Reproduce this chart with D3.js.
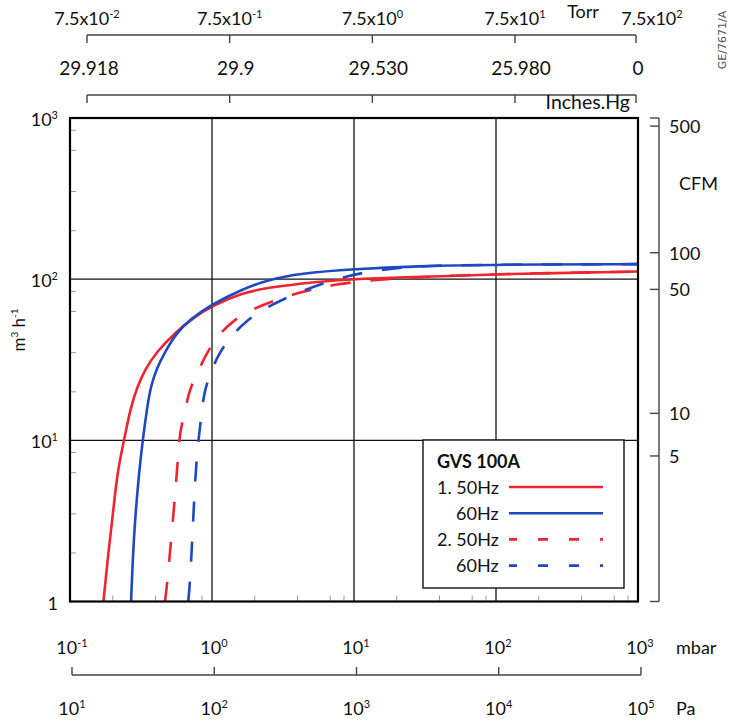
<!DOCTYPE html>
<html>
<head>
<meta charset="utf-8">
<script src="https://cdn.jsdelivr.net/npm/d3@7"></script>
<style>
  html, body { margin: 0; padding: 0; background: #fff; }
  svg { display: block; font-family: Lato, "Open Sans", sans-serif; }
</style>
</head>
<body>
<svg id="chart" width="730" height="722"></svg>
<script>
// ---- pressure axes ----
const mbarTicks = [0.1, 1, 10, 100, 1000];
const paTicks = [1e1, 1e2, 1e3, 1e4, 1e5];
const torrTicks = [0.075, 0.75, 7.5, 75, 750];
const torrExponents = [-2, -1, 0, 1, 2];
const inchesHgLabels = ["29.918", "29.9", "29.530", "25.980", "0"];
const pressureMinor = [2, 4, 6.8, 8.5];

// ---- flow axes ----
const flowTicks = [1, 10, 100, 1000];
const flowMinor = [2, 3.5, 6.3, 8.4];
const cfmLabels = [5, 10, 50, 100, 500];
const cfmAtFlow = [8.0, 14.7, 86.4, 145.8, 891];   // m³/h position of each CFM mark

// ---- pumping speed curves (pressure mbar, flow m³/h) ----
const stage1_50Hz_p = [0.172, 0.186, 0.202, 0.215, 0.240, 0.268, 0.298, 0.3375, 0.408, 0.549, 0.738, 1.0, 1.66, 2.43, 5.46, 10, 47, 100, 1000];
const stage1_50Hz_q = [1, 1.99, 3.7, 6.24, 10, 16.2, 21.5, 27.5, 35.5, 46.5, 57.5, 68.5, 82.3, 88.5, 96.4, 100.8, 104.5, 107.5, 111.5];

const stage1_60Hz_p = [0.269, 0.278, 0.287, 0.306, 0.325, 0.350, 0.370, 0.408, 0.467, 0.564, 0.700, 1.0, 1.66, 2.43, 4.17, 10, 27.6, 100, 1000];
const stage1_60Hz_q = [1, 1.99, 3.2, 6.24, 10, 16.2, 21.5, 28.0, 35.5, 46.5, 56.5, 70, 87.0, 98.7, 108.7, 115.5, 120.5, 123, 124];

const stage2_50Hz_p = [0.467, 0.485, 0.515, 0.549, 0.579, 0.595, 0.645, 0.689, 0.793, 0.927, 1.12, 1.45, 1.90, 2.70, 3.54, 5.17, 7.35, 12.3, 24, 50, 100, 1000];
const stage2_50Hz_q = [1, 1.33, 2.41, 4.47, 8.3, 11.3, 15.05, 20.3, 26.6, 35.4, 45.7, 56.3, 65.0, 73.0, 79.7, 86.5, 92.9, 98, 102.3, 105, 107.5, 111.5];

const stage2_60Hz_p = [0.681, 0.700, 0.718, 0.744, 0.770, 0.812, 0.845, 0.878, 0.968, 1.126, 1.36, 1.755, 2.30, 3.18, 4.35, 6.08, 8.41, 11.6, 16.5, 32.5, 100, 1000];
const stage2_60Hz_q = [1, 1.33, 2.0, 3.8, 6.8, 11.0, 14.7, 19.6, 26.0, 34.9, 44.4, 55.2, 65.3, 75, 84.7, 94.2, 103.0, 109.6, 115.5, 121.5, 123, 124];

const legendTitle = "GVS 100A";
const seriesNames = ["1. 50Hz", "60Hz", "2. 50Hz", "60Hz"];

const RED = "#ee2430", BLUE = "#1e47c0";
const series = [
  { name: seriesNames[0], p: stage1_50Hz_p, q: stage1_50Hz_q, color: RED,  dashed: false },
  { name: seriesNames[1], p: stage1_60Hz_p, q: stage1_60Hz_q, color: BLUE, dashed: false },
  { name: seriesNames[2], p: stage2_50Hz_p, q: stage2_50Hz_q, color: RED,  dashed: true },
  { name: seriesNames[3], p: stage2_60Hz_p, q: stage2_60Hz_q, color: BLUE, dashed: true }
];

const svg = d3.select("#chart");
const plot = { left: 70, right: 638, top: 118, bottom: 601.5 };

const x = d3.scaleLog().domain([0.1, 1000]).range([plot.left, plot.right]);
const y = d3.scaleLog().domain([1, 1000]).range([plot.bottom, plot.top]);
const xPa = d3.scaleLog().domain([10, 1e5]).range([72, 641]);
const xTorr = d3.scaleLog().domain([0.075, 75, 750]).range([87, 515, 636]);

const FS = 18;
const AXIS = "#444";

// text with a raised exponent, e.g. 10³ or 7.5x10⁻¹
function powerText(sel, base, exp, supSize) {
  sel.append("tspan").text(base);
  sel.append("tspan").attr("dy", -7).attr("font-size", supSize || 11)
     .text(exp < 0 ? "-" + Math.abs(exp) : String(exp));
}
const log10 = v => Math.round(Math.log10(v));

// ---------- plot frame, grid, minor ticks ----------
svg.append("g").selectAll("line.vgrid")
  .data(mbarTicks.slice(1, -1)).join("line")
  .attr("x1", d => x(d)).attr("x2", d => x(d))
  .attr("y1", plot.top).attr("y2", plot.bottom)
  .attr("stroke", "#111").attr("stroke-width", 1.3);
svg.append("g").selectAll("line.hgrid")
  .data(flowTicks.slice(1, -1)).join("line")
  .attr("x1", plot.left).attr("x2", plot.right)
  .attr("y1", d => y(d)).attr("y2", d => y(d))
  .attr("stroke", "#111").attr("stroke-width", 1.3);

const xMinor = [];
mbarTicks.slice(0, -1).forEach(d => pressureMinor.forEach(m => xMinor.push(d * m)));
svg.append("g").selectAll("line")
  .data(xMinor).join("line")
  .attr("x1", d => x(d)).attr("x2", d => x(d))
  .attr("y1", plot.bottom).attr("y2", plot.bottom - 6)
  .attr("stroke", "#999").attr("stroke-width", 1);

const yMinor = [];
flowTicks.slice(0, -1).forEach(d => flowMinor.forEach(m => yMinor.push(d * m)));
svg.append("g").selectAll("line")
  .data(yMinor).join("line")
  .attr("x1", plot.left).attr("x2", plot.left + 6)
  .attr("y1", d => y(d)).attr("y2", d => y(d))
  .attr("stroke", "#999").attr("stroke-width", 1);

// ---------- curves ----------
svg.append("defs").append("clipPath").attr("id", "plotClip")
  .append("rect").attr("x", plot.left).attr("y", plot.top)
  .attr("width", plot.right - plot.left).attr("height", plot.bottom - plot.top);

const line = d3.line()
  .x(d => x(d[0])).y(d => y(d[1]))
  .curve(d3.curveBasis);

const curves = svg.append("g").attr("clip-path", "url(#plotClip)");
[series[0], series[2], series[1], series[3]].forEach(s => {
  curves.append("path")
    .datum(s.p.map((p, i) => [p, s.q[i]]))
    .attr("d", line)
    .attr("fill", "none")
    .attr("stroke", s.color)
    .attr("stroke-width", 2.6)
    .attr("stroke-dasharray", s.dashed ? "20,20" : null);
});

// frame on top
svg.append("rect")
  .attr("x", plot.left).attr("y", plot.top)
  .attr("width", plot.right - plot.left).attr("height", plot.bottom - plot.top)
  .attr("fill", "none").attr("stroke", "#000").attr("stroke-width", 2.2);

// ---------- left axis labels ----------
svg.append("g").selectAll("text")
  .data(flowTicks).join("text")
  .attr("x", 58).attr("y", d => y(d) + 8)
  .attr("text-anchor", "end").attr("font-size", FS).attr("fill", "#111")
  .each(function (d) {
    const t = d3.select(this);
    if (d === 1) t.text("1");
    else powerText(t, "10", log10(d));
  });

const yTitle = svg.append("text")
  .attr("transform", "translate(25,330) rotate(-90)")
  .attr("text-anchor", "middle").attr("font-size", 17).attr("fill", "#111");
yTitle.append("tspan").text("m");
yTitle.append("tspan").attr("dy", -7).attr("font-size", 10).text("3");
yTitle.append("tspan").attr("dy", 7).text(" h");
yTitle.append("tspan").attr("dy", -7).attr("font-size", 10).text("-1");

// ---------- right CFM axis ----------
const cfmX = 659;
const cfmG = svg.append("g");
cfmG.append("line")
  .attr("x1", cfmX).attr("x2", cfmX).attr("y1", plot.top).attr("y2", plot.bottom)
  .attr("stroke", AXIS).attr("stroke-width", 1.4);
cfmG.selectAll("line.end")
  .data([plot.top, plot.bottom]).join("line")
  .attr("x1", cfmX - 9).attr("x2", cfmX).attr("y1", d => d).attr("y2", d => d)
  .attr("stroke", AXIS).attr("stroke-width", 1.4);
cfmG.selectAll("line.tick")
  .data(cfmAtFlow).join("line")
  .attr("x1", cfmX - 9).attr("x2", cfmX)
  .attr("y1", d => y(d)).attr("y2", d => y(d))
  .attr("stroke", AXIS).attr("stroke-width", 1.4);
cfmG.selectAll("text")
  .data(cfmLabels).join("text")
  .attr("x", 669).attr("y", (d, i) => y(cfmAtFlow[i]) + 7)
  .attr("font-size", FS).attr("fill", "#111")
  .text(d => d);
cfmG.append("text").attr("x", 679).attr("y", 190)
  .attr("font-size", FS).attr("fill", "#111").text("CFM");

// ---------- bottom axes: mbar and Pa ----------
svg.append("g").selectAll("text")
  .data(mbarTicks).join("text")
  .attr("x", d => x(d) + 2).attr("y", 654)
  .attr("text-anchor", "middle").attr("font-size", FS).attr("fill", "#111")
  .each(function (d) { powerText(d3.select(this), "10", log10(d)); });
svg.append("text").attr("x", 676).attr("y", 654)
  .attr("font-size", FS).attr("fill", "#111").text("mbar");

const paG = svg.append("g");
paG.append("line")
  .attr("x1", xPa(paTicks[0])).attr("x2", xPa(paTicks[paTicks.length - 1]))
  .attr("y1", 675).attr("y2", 675)
  .attr("stroke", AXIS).attr("stroke-width", 1.4);
paG.selectAll("line.tick")
  .data(paTicks).join("line")
  .attr("x1", d => xPa(d)).attr("x2", d => xPa(d))
  .attr("y1", 667).attr("y2", 675)
  .attr("stroke", AXIS).attr("stroke-width", 1.4);
paG.selectAll("text")
  .data(paTicks).join("text")
  .attr("x", d => xPa(d)).attr("y", 715)
  .attr("text-anchor", "middle").attr("font-size", FS).attr("fill", "#111")
  .each(function (d) { powerText(d3.select(this), "10", log10(d)); });
paG.append("text").attr("x", 676).attr("y", 715)
  .attr("font-size", FS).attr("fill", "#111").text("Pa");

// ---------- top axes: Torr and Inches.Hg ----------
function bracketAxis(yLine) {
  const g = svg.append("g");
  g.append("line")
    .attr("x1", xTorr(torrTicks[0])).attr("x2", xTorr(torrTicks[torrTicks.length - 1]))
    .attr("y1", yLine).attr("y2", yLine)
    .attr("stroke", AXIS).attr("stroke-width", 1.4);
  g.selectAll("line.tick")
    .data(torrTicks).join("line")
    .attr("x1", d => xTorr(d)).attr("x2", d => xTorr(d))
    .attr("y1", yLine).attr("y2", yLine + 8)
    .attr("stroke", AXIS).attr("stroke-width", 1.4);
  return g;
}

const torrG = bracketAxis(35);
torrG.selectAll("text")
  .data(torrTicks).join("text")
  .attr("x", (d, i) => xTorr(d) + (i === torrTicks.length - 1 ? 16 : 0))
  .attr("y", 25)
  .attr("text-anchor", "middle").attr("font-size", FS).attr("fill", "#111")
  .each(function (d, i) { powerText(d3.select(this), "7.5x10", torrExponents[i]); });
svg.append("text").attr("x", 583).attr("y", 18)
  .attr("text-anchor", "middle").attr("font-size", FS).attr("fill", "#111").text("Torr");

const inchG = bracketAxis(95);
inchG.selectAll("text")
  .data(torrTicks).join("text")
  .attr("x", (d, i) => xTorr(d) + (i === 0 || i === torrTicks.length - 1 ? 2 : 6))
  .attr("y", 75)
  .attr("text-anchor", "middle").attr("font-size", 19).attr("fill", "#111")
  .text((d, i) => inchesHgLabels[i]);
svg.append("text").attr("x", 630).attr("y", 109)
  .attr("text-anchor", "end").attr("font-size", 19.5).attr("fill", "#111").text("Inches.Hg");

// drawing reference code
svg.append("text")
  .attr("transform", "translate(726,40) rotate(-90)")
  .attr("text-anchor", "middle")
  .attr("font-family", "DejaVu Sans, sans-serif").attr("font-size", 11)
  .attr("fill", "#555").text("GE/7671/A");

// ---------- legend ----------
const lg = svg.append("g");
lg.append("rect")
  .attr("x", 423).attr("y", 440).attr("width", 201).attr("height", 148)
  .attr("fill", "#fff").attr("stroke", "#111").attr("stroke-width", 1.4);
lg.append("text").attr("x", 437).attr("y", 468)
  .attr("font-size", FS).attr("font-weight", "bold").attr("fill", "#111")
  .text(legendTitle);
const rows = lg.selectAll("g.row").data(series).join("g")
  .attr("transform", (d, i) => `translate(0,${487 + i * 26.2})`);
rows.append("text")
  .attr("x", (d, i) => (i % 2 === 0 ? 437 : 456)).attr("y", 6.5)
  .attr("font-size", FS).attr("fill", "#111")
  .text(d => d.name);
rows.append("line")
  .attr("x1", 509).attr("x2", 603).attr("y1", 0).attr("y2", 0)
  .attr("stroke", d => d.color).attr("stroke-width", 2.6)
  .attr("stroke-dasharray", d => d.dashed ? "10,21" : null)
  .attr("stroke-dashoffset", d => d.dashed ? 2 : null);
</script>
</body>
</html>
